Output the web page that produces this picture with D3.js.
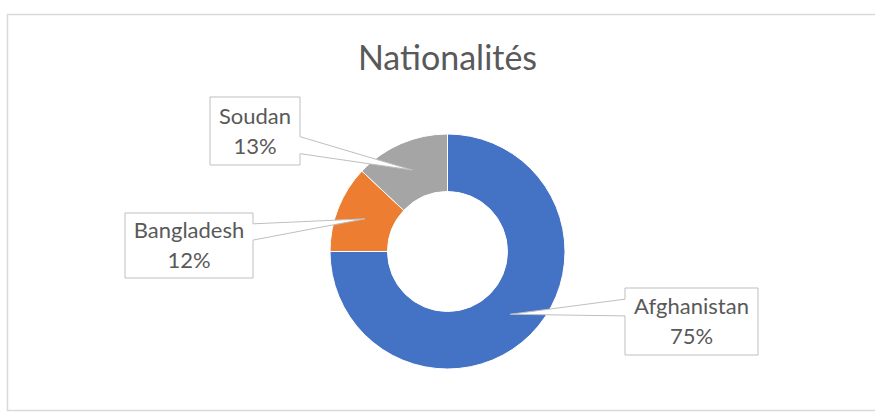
<!DOCTYPE html>
<html>
<head>
<meta charset="utf-8">
<script src="https://cdn.jsdelivr.net/npm/d3@7"></script>
<style>
  html, body { margin: 0; padding: 0; background: #fff; }
  svg { display: block; }
</style>
</head>
<body>
<svg id="chart" width="875" height="414"></svg>
<script>
// ---- data ----
const title = "Nationalités";
const categories = ["Afghanistan", "Bangladesh", "Soudan"];
const values = [75, 12, 13];
const colors = ["#4472C4", "#ED7D31", "#A5A5A5"];

// ---- layout (label boxes: center x, center y, width, height) ----
const labelBoxes = [
  { cx: 691.5, cy: 321.5, w: 133, h: 67 },
  { cx: 189, cy: 245.5, w: 128, h: 65 },
  { cx: 255, cy: 131, w: 90, h: 68 }
];

const W = 875, H = 414;
const cx = 447.5, cy = 251.5, rOuter = 117.5, rInner = 60;
const font = "Lato, 'Open Sans', sans-serif";
const textColor = "#595959";

const svg = d3.select("#chart");
svg.append("rect").attr("width", W).attr("height", H).attr("fill", "#fff");
// chart area border
svg.append("rect")
  .attr("x", 7.5).attr("y", 14.5).attr("width", 900).attr("height", 396)
  .attr("fill", "#fff").attr("stroke", "#d9d9d9").attr("stroke-width", 1.5);

// title
svg.append("text")
  .attr("x", cx).attr("y", 70)
  .attr("text-anchor", "middle")
  .attr("font-family", font).attr("font-size", 34)
  .attr("fill", textColor)
  .text(title);

const total = d3.sum(values);
const pie = d3.pie().sort(null).value(d => d)(values);
const arc = d3.arc().innerRadius(rInner).outerRadius(rOuter);

const g = svg.append("g").attr("transform", `translate(${cx},${cy})`);
g.selectAll("path.slice").data(pie).join("path")
  .attr("class", "slice")
  .attr("d", arc)
  .attr("fill", (d, i) => colors[i])
  .attr("stroke", "#fff").attr("stroke-width", 1);

// callout labels
const fmt = v => Math.round(v / total * 100) + "%";
pie.forEach((d, i) => {
  const c = arc.centroid(d);
  const tip = [cx + c[0], cy + c[1]];
  const b = labelBoxes[i];
  const x0 = b.cx - b.w / 2, x1 = b.cx + b.w / 2;
  const y0 = b.cy - b.h / 2, y1 = b.cy + b.h / 2;
  // tail base on the side facing the tip
  const upper = tip[1] < b.cy;
  const f1 = upper ? 1 / 6 : 7 / 12, f2 = upper ? 5 / 12 : 5 / 6;
  const ya = y0 + b.h * f1, yb = y0 + b.h * f2;
  let p;
  if (tip[0] > x1) {
    p = `M${x0},${y0}H${x1}V${ya}L${tip[0]},${tip[1]}L${x1},${yb}V${y1}H${x0}Z`;
  } else {
    p = `M${x0},${y0}H${x1}V${y1}H${x0}V${yb}L${tip[0]},${tip[1]}L${x0},${ya}Z`;
  }
  svg.append("path").attr("d", p)
    .attr("fill", "#fff").attr("stroke", "#bfbfbf").attr("stroke-width", 1);
  const fs = 22;
  const lines = [categories[i], fmt(values[i])];
  lines.forEach((t, k) => {
    svg.append("text")
      .attr("x", b.cx)
      .attr("y", b.cy + (k === 0 ? -15 : 15) + fs * 0.36)
      .attr("text-anchor", "middle")
      .attr("font-family", font).attr("font-size", fs)
      .attr("fill", textColor)
      .text(t);
  });
});
</script>
</body>
</html>
